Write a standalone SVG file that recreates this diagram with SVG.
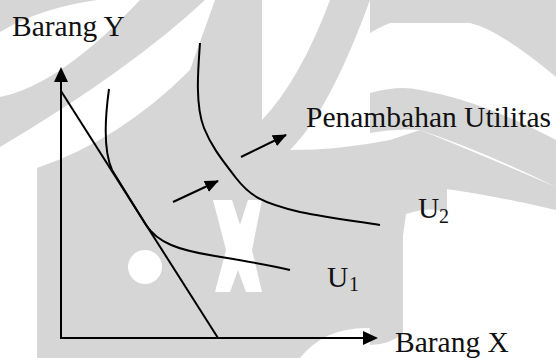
<svg xmlns="http://www.w3.org/2000/svg" width="556" height="358" viewBox="0 0 556 358">
<defs>
<style>
.wm{fill:#d6d6d6;stroke:none;fill-rule:evenodd}
.ln{fill:none;stroke:#000;stroke-width:2;stroke-linecap:butt}
.t{font-family:"Liberation Serif","Times New Roman",serif;font-size:29.5px;fill:#111}
.s{font-family:"Liberation Serif","Times New Roman",serif;font-size:20px;fill:#111}
</style>
<marker id="ah" viewBox="0 0 14 12" refX="13" refY="6" markerWidth="14" markerHeight="12" markerUnits="userSpaceOnUse" orient="auto">
<path d="M0,0 L14,6 L0,12 Z" fill="#000"/>
</marker>
</defs>
<rect width="556" height="358" fill="#fff"/>
<g id="watermark">
<path class="wm" d="M0,0 H97 Q40,8 0,32 Z"/>
<path class="wm" d="M0,97 Q60,85 140,0 H205 Q130,70 0,147 Z"/>
<path class="wm" d="M37,215 L37,168 Q120,140 190,70 L215,0 H262 L262,120 Q300,80 330,0 H370 Q330,110 290,150 Q340,150 390,140 L420,130 Q470,150 556,187 L556,210 Q470,190 410,185 L390,330 Q330,320 300,358 H37 Z M128,267 a17,17 0 1,0 34,0 a17,17 0 1,0 -34,0 Z M213,200 L232,200 L240,225 L248,200 L262,200 L252,250 L262,292 L246,292 L238,270 L230,292 L215,292 L226,250 Z"/>
<path class="wm" d="M370,0 H556 V77 Q500,30 470,23 L390,23 Q378,28 370,33 Z"/>
<path class="wm" d="M370,93 Q400,85 420,90 Q480,100 556,140 V187 Q480,150 420,130 Q395,128 370,133 Z"/>
<path class="wm" d="M370,163 Q420,158 447,170 L447,213 Q430,205 403,215 L403,333 Q390,345 370,345 Z"/>
</g>
<g id="connectors">
<line class="ln" x1="61" y1="338" x2="61" y2="82"/>
<path d="M61,67 L54,82 L68,82 Z" fill="#000"/>
<line class="ln" x1="60" y1="338" x2="364" y2="338"/>
<path d="M378,338 L363,331 L363,345 Z" fill="#000"/>
<line class="ln" x1="61" y1="91" x2="218" y2="338"/>
<line class="ln" x1="173" y1="202" x2="218" y2="181" marker-end="url(#ah)"/>
<line class="ln" x1="241" y1="157" x2="286" y2="135" marker-end="url(#ah)"/>
</g>
<g id="U1">
<path class="ln" d="M109,89 C104,125 104,152 112,170 L146,225 C158,243 178,250 215,256 C245,261 270,265 290,270"/>
<text class="t" x="327" y="287">U</text><text class="s" x="349" y="291">1</text>
</g>
<g id="U2">
<path class="ln" d="M200,43 C198,70 195,105 204,128 C212,148 224,162 236,178 C250,196 262,203 300,212 C330,218 355,221 380,225"/>
<text class="t" x="418" y="218">U</text><text class="s" x="439" y="223">2</text>
</g>
<g id="labels">
<text class="t" x="12" y="36">Barang Y</text>
<text class="t" x="306" y="127">Penambahan Utilitas</text>
<text class="t" x="395" y="352">Barang X</text>
</g>
</svg>
